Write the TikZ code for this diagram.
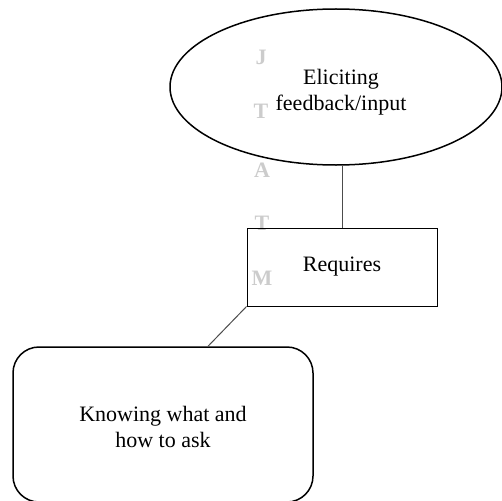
\documentclass[tikz,border=0pt]{standalone}
\usepackage{fontspec}
\setmainfont{Liberation Serif}
\usetikzlibrary{shapes.geometric,calc}
\begin{document}
\begin{tikzpicture}[x=1pt,y=-1pt,
  lbl/.style={font=\fontsize{22}{25.5}\selectfont, align=center},
  wm/.style={font=\fontsize{22}{24}\selectfont\bfseries, text=black!20},
  conn/.style={draw=black!70, line width=1pt}]
\useasboundingbox (0,0) rectangle (502,500);
\clip (0,0) rectangle (502,500);
% watermark
\node[wm] (w1) at (261,57) {J};
\node[wm] (w2) at (261,111) {T};
\node[wm] (w3) at (262,170) {A};
\node[wm] (w4) at (262,223) {T};
\node[wm] (w5) at (262,278) {M};
% nodes
\node[ellipse, draw, line width=1.5pt, minimum width=332, minimum height=156, inner sep=0pt] (ell) at (336,87) {};
\node[lbl] (elltext) at (341,92) {Eliciting\\feedback/input};
\node[draw, line width=1pt, minimum width=190, minimum height=78, inner sep=0pt] (req) at (342,267) {};
\node[lbl] (reqtext) at (342,267) {Requires};
\node[draw, rounded corners=26pt, line width=1.5pt, minimum width=300, minimum height=155, inner sep=0pt] (know) at (163,424.5) {};
\node[lbl] (knowtext) at (163,427) {Knowing what and\\how to ask};
% connectors
\draw[conn] (req.north) -- (req.north |- ell.south);
\coordinate (kt) at ($(know.north)+(45,0)$);
\draw[conn] (req.south west) -- (kt);
\end{tikzpicture}
\end{document}
